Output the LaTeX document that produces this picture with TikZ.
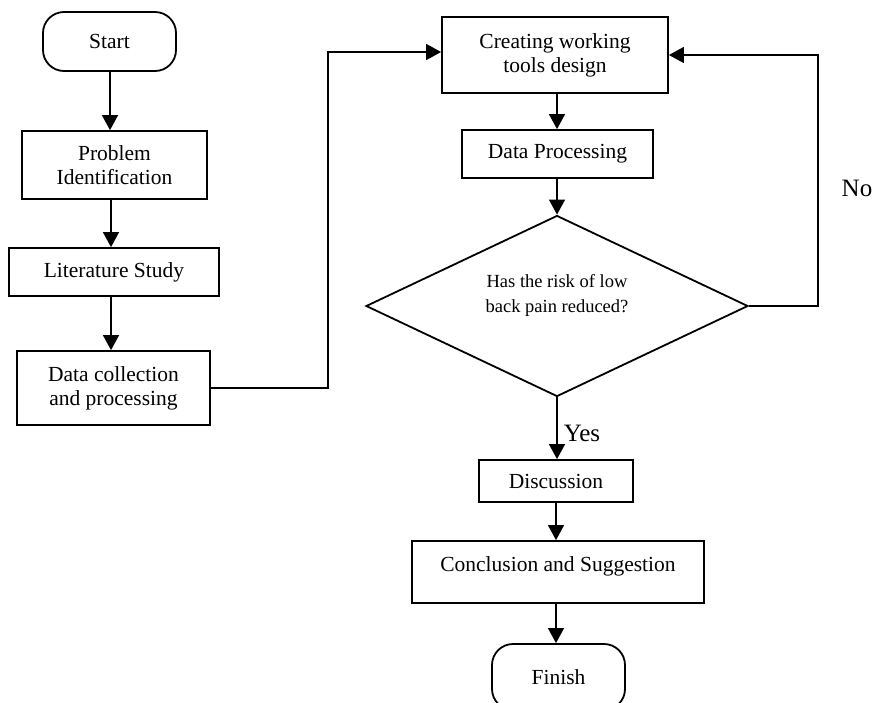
\documentclass[tikz,border=0pt]{standalone}
\usepackage{fontspec}
\setmainfont{Liberation Serif}
\usetikzlibrary{arrows.meta,shapes.geometric}
\tikzset{
  box/.style={draw, line width=1.8pt, rectangle, inner sep=2pt, align=center,
              font=\fontsize{21.5}{24}\selectfont},
  term/.style={box, rounded corners=21pt},
  decis/.style={draw, line width=1.8pt, diamond, inner sep=0pt},
  lbl/.style={inner sep=0pt, font=\fontsize{25}{28}\selectfont},
  arr/.style={line width=1.4pt, -{Triangle[width=16pt,length=15pt]}}
}
\begin{document}
\begin{tikzpicture}[x=1pt,y=-1pt]
\useasboundingbox (0,0) rectangle (874,702);
\clip (0,0) rectangle (874,702);
% left column
\node[term, minimum width=133pt, minimum height=59pt] (start) at (109.5,41.5) {Start};
\node[box, minimum width=185pt, minimum height=68pt] (prob) at (114.5,165) {Problem\\Identification};
\node[box, minimum width=210pt, minimum height=48pt] (lit) at (114,272) {Literature Study};
\node[box, minimum width=193pt, minimum height=74pt] (dcoll) at (113.5,388) {Data collection\\and processing};
% right column
\node[box, minimum width=226pt, minimum height=76pt] (create) at (555,55) {Creating working\\tools design};
\node[box, minimum width=191pt, minimum height=48pt] (dproc) at (557.5,154) {Data Processing};
\node[decis, minimum width=382pt, minimum height=181pt] (dec) at (557,306) {};
\node[inner sep=0pt, align=center, font=\fontsize{18.5}{25}\selectfont] (dectext) at (557,295) {Has the risk of low\\back pain reduced?};
\node[box, minimum width=154pt, minimum height=42pt] (disc) at (556,481) {Discussion};
\node[box, minimum width=292pt, minimum height=62pt] (concl) at (558,572) {\raisebox{16pt}{Conclusion and Suggestion}};
\node[term, minimum width=133pt, minimum height=66pt] (finish) at (558.5,677) {Finish};
% labels
\node[lbl] (no) at (857,188) {No};
\node[lbl] (yes) at (582,433) {Yes};
% helper coordinates
\coordinate (c1) at (328,0);
\coordinate (c2) at (818,0);
\coordinate (xa) at (110,0);
\coordinate (xb) at (111,0);
\coordinate (xc) at (111,0);
\coordinate (xr) at (557,0);
\coordinate (cin) at ([yshift=3pt]create.west);
% connectors
\draw[arr] (start.south -| xa) -- (prob.north -| xa);
\draw[arr] (prob.south -| xb) -- (lit.north -| xb);
\draw[arr] (lit.south -| xc) -- (dcoll.north -| xc);
\draw[arr] (dcoll.east) -- (dcoll.east -| c1) -- (c1 |- cin) -- (cin);
\draw[arr] (create.south -| xr) -- (dproc.north -| xr);
\draw[arr] (dproc.south -| xr) -- (dec.north);
\draw[arr] (dec.east) -- (dec.east -| c2) -- (c2 |- create.east) -- (create.east);
\draw[arr] (dec.south) -- (disc.north -| dec.south);
\draw[arr] (disc.south) -- (concl.north -| disc.south);
\draw[arr] (concl.south -| disc.south) -- (finish.north -| disc.south);
\end{tikzpicture}
\end{document}
